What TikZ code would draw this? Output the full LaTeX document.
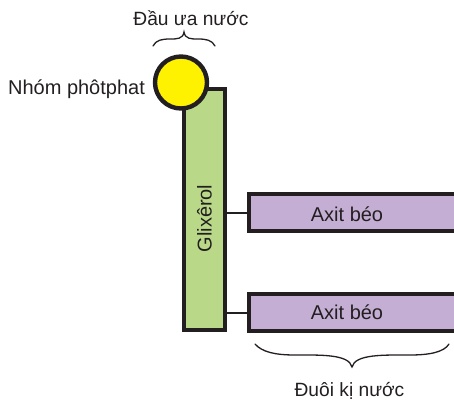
\documentclass[tikz,border=0pt]{standalone}
\usepackage{fontspec}
\setmainfont{Liberation Sans}
\definecolor{ink}{HTML}{231F20}
\definecolor{glyc}{HTML}{B9D989}
\definecolor{fatty}{HTML}{C4AED4}
\definecolor{head}{HTML}{FFF200}
\tikzset{
  lbl/.style={text=ink,inner sep=0pt,font=\fontsize{20}{23}\selectfont},
  cap label/.style={text=ink,inner sep=0pt,font=\fontsize{19.2}{22}\selectfont},
  box/.style={draw=ink,line width=4.4pt,inner sep=0pt,minimum width=0pt},
  link/.style={draw=ink,line width=2pt},
  brace/.style={draw=ink,line width=1.3pt,line cap=round},
}
\begin{document}
\begin{tikzpicture}[x=1pt,y=-1pt]
\useasboundingbox (0,0) rectangle (454,404);
\node[box,fill=glyc,minimum width=41pt,minimum height=241pt] (g) at (204.5,209.5) {};
\node[lbl,rotate=90] (gt) at (204.5,218.5) {Glixêrol};
\node[box,fill=fatty,minimum width=212pt,minimum height=37pt] (a1) at (355,212.7) {};
\node[box,fill=fatty,minimum width=212pt,minimum height=37pt] (a2) at (355,312.5) {};
\node[lbl] at (347,214) (t1) {Axit béo};
\node[lbl] at (347,312) (t2) {Axit béo};
\coordinate (g1) at (g.east |- a1.west);
\coordinate (g2) at (g.east |- a2.west);
\draw[link] (g1) -- (a1.west);
\draw[link] (g2) -- (a2.west);
\node[box,circle,fill=head,minimum size=52pt] (c) at (181,82.5) {};
\node[lbl] (n) at (76.5,89) {Nhóm phôtphat};
\node[cap label] (d) at (191,18) {Đầu ưa nước};
\node[cap label] (e) at (349.5,391) {Đuôi kị nước};
\draw[brace] (153,46) .. controls (156,40) and (162,39) .. (170,39) .. controls (177,39) and (183,39) .. (184,32) .. controls (185,39) and (191,39) .. (198,39) .. controls (206,39) and (212,40) .. (215,46);
\draw[brace] (255,344) .. controls (262,352) and (275,355) .. (295,355) .. controls (320,355) and (349,354) .. (352,367) .. controls (355,354) and (384,355) .. (410,355) .. controls (430,355) and (444,352) .. (449,344);
\end{tikzpicture}
\end{document}
